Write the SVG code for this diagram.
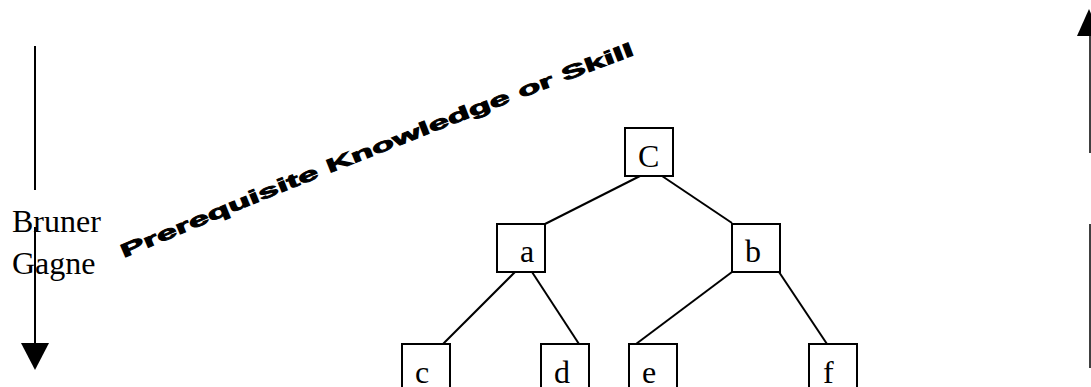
<svg xmlns="http://www.w3.org/2000/svg" width="1091" height="387" viewBox="0 0 1091 387">
  <style>
    .box { fill: #fff; stroke: #000; stroke-width: 2; }
    .edge { stroke: #000; stroke-width: 2; fill: none; }
    .lbl { font-family: "Liberation Serif", "Times New Roman", serif; font-size: 32px; fill: #000; }
    .art { font-family: "Liberation Sans", Arial, sans-serif; font-weight: bold; font-size: 19px; fill: #000; stroke: #000; stroke-width: 0.9; }
  </style>
  <defs>
    <path id="slant" d="M 124 258 Q 330 170 600 68 L 700 30"/>
  </defs>
  <rect width="1091" height="387" fill="#fff"/>

  <!-- left vertical scale arrow (downwards) -->
  <g id="left-scale">
    <line x1="35" y1="46" x2="35" y2="190" class="edge"/>
    <line x1="35" y1="227" x2="35" y2="344" class="edge"/>
    <polygon points="21,343 49,343 35,370" fill="#000"/>
    <text x="12" y="232" class="lbl">Bruner</text>
    <text x="12" y="274" class="lbl">Gagne</text>
  </g>

  <!-- right vertical scale arrow (upwards) -->
  <g id="right-scale">
    <line x1="1090" y1="36" x2="1090" y2="153" stroke="#000" stroke-width="1.5"/>
    <line x1="1090" y1="224" x2="1090" y2="368" stroke="#000" stroke-width="1.5"/>
    <polygon points="1077,36 1101,36 1089,9" fill="#000"/>
  </g>

  <!-- slanted banner -->
  <g id="banner">
    <text class="art"><textPath href="#slant" textLength="550" lengthAdjust="spacingAndGlyphs">Prerequisite Knowledge or Skill</textPath></text>
  </g>

  <!-- tree connectors -->
  <g id="connectors">
    <line x1="640" y1="176" x2="545" y2="224" class="edge"/>
    <line x1="662" y1="176" x2="732" y2="223" class="edge"/>
    <line x1="515" y1="272" x2="443" y2="344" class="edge"/>
    <line x1="532" y1="272" x2="579" y2="344" class="edge"/>
    <line x1="732" y1="272" x2="636" y2="344" class="edge"/>
    <line x1="779" y1="272" x2="827" y2="344" class="edge"/>
  </g>

  <!-- tree nodes -->
  <g id="node-C"><rect x="625" y="128" width="48" height="48" class="box"/><text x="638" y="167" class="lbl">C</text></g>
  <g id="node-a"><rect x="497" y="224" width="48" height="48" class="box"/><text x="520" y="262" class="lbl">a</text></g>
  <g id="node-b"><rect x="732" y="224" width="48" height="48" class="box"/><text x="745" y="262" class="lbl">b</text></g>
  <g id="node-c"><rect x="402" y="344" width="48" height="48" class="box"/><text x="415" y="383" class="lbl">c</text></g>
  <g id="node-d"><rect x="541" y="344" width="48" height="48" class="box"/><text x="554" y="383" class="lbl">d</text></g>
  <g id="node-e"><rect x="629" y="344" width="48" height="48" class="box"/><text x="642" y="383" class="lbl">e</text></g>
  <g id="node-f"><rect x="809" y="344" width="48" height="48" class="box"/><text x="823" y="383" class="lbl">f</text></g>
</svg>
